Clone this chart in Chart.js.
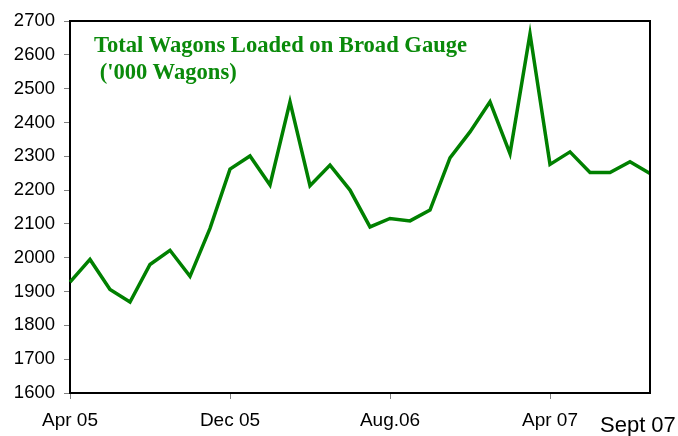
<!DOCTYPE html>
<html>
<head>
<meta charset="utf-8">
<script src="https://cdn.jsdelivr.net/npm/chart.js@4.4.1/dist/chart.umd.min.js"></script>
<style>
  html, body { margin: 0; padding: 0; background: #fff; }
  #wrap { position: relative; width: 678px; height: 436px; overflow: hidden; }
  #c { position: absolute; left: 0; top: 0; }
  .title { position: absolute; left: 94px; top: 31px; font: bold 22.6px "Liberation Serif", "Times New Roman", serif;
           line-height: 27px; color: #0a8a0a; white-space: pre; }
  #lastLbl { position: absolute; left: 600px; top: 414px; font: 22px "Liberation Sans", Arial, sans-serif;
             line-height: 22px; color: #000; white-space: pre; }
</style>
</head>
<body>
<div id="wrap">
  <canvas id="c" width="678" height="436"></canvas>
  <div class="title" id="title"></div>
  <div id="lastLbl"></div>
</div>
<script>
const categories = ['Apr 05','May 05','Jun 05','Jul 05','Aug 05','Sep 05','Oct 05','Nov 05','Dec 05',
  'Jan 06','Feb 06','Mar 06','Apr 06','May 06','Jun 06','Jul 06','Aug.06',
  'Sep 06','Oct 06','Nov 06','Dec 06','Jan 07','Feb 07','Mar 07','Apr 07',
  'May 07','Jun 07','Jul 07','Aug 07','Sept 07'];
const wagonsLoaded = [1928,1995,1906,1869,1980,2022,1945,2087,2262,2301,2215,2461,2213,2274,2200,2091,
  2116,2109,2141,2295,2372,2461,2308,2662,2276,2313,2252,2252,2284,2249];
const shownTicks = ['Apr 05','Dec 05','Aug.06','Apr 07'];
const endLabel = 'Sept 07';
const titleLines = ['Total Wagons Loaded on Broad Gauge', " ('000 Wagons)"];
const yMin = 1600, yMax = 2700, yStep = 100;

document.getElementById('title').textContent = titleLines.join('\n');
document.getElementById('lastLbl').textContent = endLabel;

const framePlugin = {
  id: 'frame',
  afterDraw(chart) {
    const a = chart.chartArea, ctx = chart.ctx;
    ctx.save();
    ctx.strokeStyle = '#000';
    ctx.lineWidth = 2;
    ctx.beginPath();
    ctx.moveTo(a.left, a.top);
    ctx.lineTo(a.right, a.top);
    ctx.lineTo(a.right, a.bottom);
    ctx.stroke();
    ctx.restore();
  }
};

new Chart(document.getElementById('c'), {
  type: 'line',
  data: {
    labels: categories,
    datasets: [{
      data: wagonsLoaded,
      borderColor: '#008000',
      borderWidth: 3.5,
      pointRadius: 0,
      tension: 0,
      fill: false
    }]
  },
  options: {
    responsive: false,
    animation: false,
    layout: { padding: { top: 21, right: 28, left: 0, bottom: 0 } },
    plugins: { legend: { display: false }, tooltip: { enabled: false }, title: { display: false } },
    scales: {
      x: {
        type: 'category',
        offset: false,
        afterFit(s) { s.height = 43; },
        border: { display: true, color: '#000', width: 2 },
        grid: {
          drawOnChartArea: false, drawTicks: true, tickLength: 6,
          tickColor: ctx => (shownTicks.includes(categories[ctx.index]) ? '#808080' : 'rgba(0,0,0,0)')
        },
        ticks: {
          autoSkip: false, maxRotation: 0, minRotation: 0, padding: 10,
          color: '#000',
          font: { family: '"Liberation Sans", Arial, sans-serif', size: 19 },
          callback(v, i) { return shownTicks.includes(categories[i]) ? categories[i] : ''; }
        }
      },
      y: {
        min: yMin, max: yMax,
        afterFit(s) { s.width = 70; },
        border: { display: true, color: '#000', width: 2 },
        grid: { drawOnChartArea: false, drawTicks: true, tickLength: 6, tickColor: '#808080' },
        ticks: {
          stepSize: yStep, padding: 9, color: '#000',
          font: { family: '"Liberation Sans", Arial, sans-serif', size: 18.5 },
          callback(v) { return String(v); }
        }
      }
    }
  },
  plugins: [framePlugin]
});
</script>
</body>
</html>
